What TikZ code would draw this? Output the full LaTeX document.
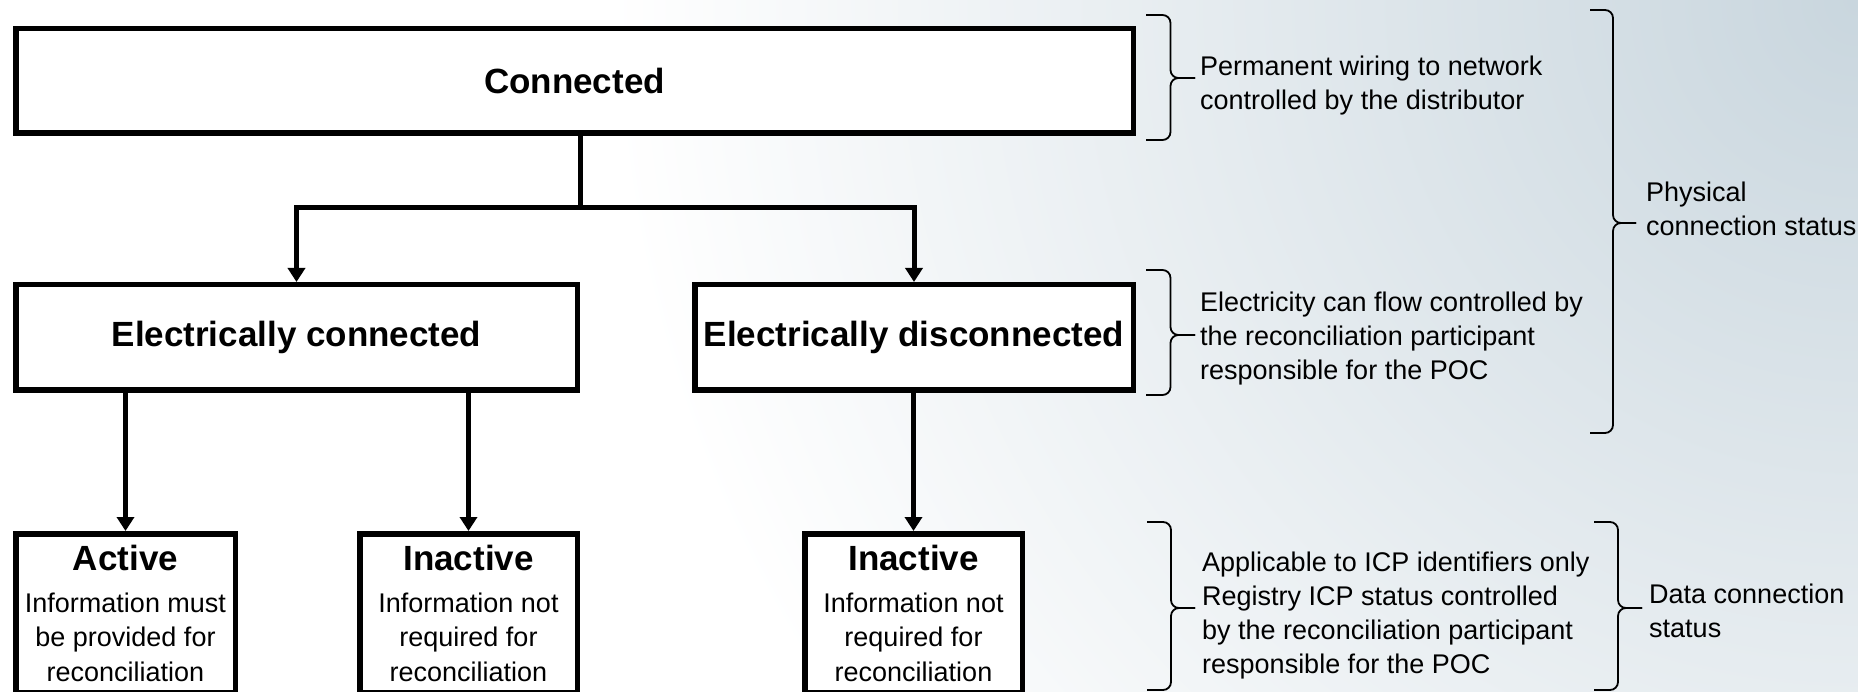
\documentclass[tikz,border=0pt]{standalone}
\usepackage{fontspec}
\setmainfont{Liberation Sans}
\usepackage{tikz}
\usetikzlibrary{arrows.meta}
\usetikzlibrary{calc}
\definecolor{bgblue}{HTML}{C9D6DE}
\newcommand{\sidebrace}[5]{%
	\draw[bracket] (#1,-#2) -| (#1+#5/2,-#4) -- (#1+#5,-#4);
	\draw[bracket] (#1,-#3) -| (#1+#5/2,-#4) -- (#1+#5,-#4);}

\begin{document}
\begin{tikzpicture}[x=1pt, y=1pt,
		box/.style={draw, line width=5.5pt, fill=white, inner sep=0pt, font=\fontsize{35}{40}\selectfont\bfseries},
		statebox/.style={draw, line width=5.5pt, fill=white, inner sep=0pt, align=center, minimum width=217.5pt, minimum height=158.5pt, font=\fontsize{27}{34.5}\selectfont},
		note/.style={anchor=west, align=left, inner sep=0pt, font=\fontsize{27}{34}\selectfont},
		link/.style={line width=5pt},
		arrow/.style={link, -{Triangle[length=14pt, width=17pt]}},
		bracket/.style={line width=1.8pt, rounded corners=8pt}]
		\useasboundingbox (0,0) rectangle (1858,-692);
		\begin{scope}
			\clip (0,0) rectangle (1858,-692);
			\shade[inner color=bgblue, outer color=white] (1858,0) circle (1250);
		\end{scope}

		\node(Connected)	[box, minimum width=1117.5pt, minimum height=104.5pt] at (574.5,-81)	{Connected};
		\node(EC)		[box, minimum width=561.5pt, minimum height=105.5pt] at (296.5,-337.5)	{Electrically connected};
		\node(ED)		[box, minimum width=438.5pt, minimum height=105.5pt] at (914,-337.5)	{Electrically disconnected};
		\node(Active)		[statebox, minimum width=219.5pt] at (125.5,-613)	{{\fontsize{35}{40}\selectfont\bfseries Active}\\[7.5pt]Information must\\be provided for\\reconciliation};
		\node(InactiveA)	[statebox] at (468.5,-613)	{{\fontsize{35}{40}\selectfont\bfseries Inactive}\\[7.5pt]Information not\\required for\\reconciliation};
		\node(InactiveB)	[statebox] at (913.5,-613)	{{\fontsize{35}{40}\selectfont\bfseries Inactive}\\[7.5pt]Information not\\required for\\reconciliation};

		\coordinate(split) at (580,-208);
		\draw[link]	(Connected.south -| split) -- (split);
		\draw[arrow]	(split) -| (EC.north);
		\draw[arrow]	(split) -| (ED.north);
		\draw[arrow]	(EC.south -| Active.north) -- (Active.north);
		\draw[arrow]	(EC.south -| InactiveA.north) -- (InactiveA.north);
		\draw[arrow]	(ED.south -| InactiveB.north) -- (InactiveB.north);

		\sidebrace{1146}{15}{140}{78}{49}
		\sidebrace{1146}{270}{395}{335}{49}
		\sidebrace{1590}{10}{433}{223}{46}
		\sidebrace{1147}{522}{690}{608}{48}
		\sidebrace{1594}{522}{690}{608}{48}

		\node(wiring)	[note] at (1200,-85.5)	{Permanent wiring to network\\controlled by the distributor};
		\node(flow)	[note] at (1200,-338.5)	{Electricity can flow controlled by\\the reconciliation participant\\responsible for the POC};
		\node(physical)	[note] at (1646,-209)	{Physical\\connection status};
		\node(registry)	[note] at (1202,-616)	{Applicable to ICP identifiers only\\Registry ICP status controlled\\by the reconciliation participant\\responsible for the POC};
		\node(datastat)	[note] at (1649,-611)	{Data connection\\status};
	\end{tikzpicture}
\end{document}
